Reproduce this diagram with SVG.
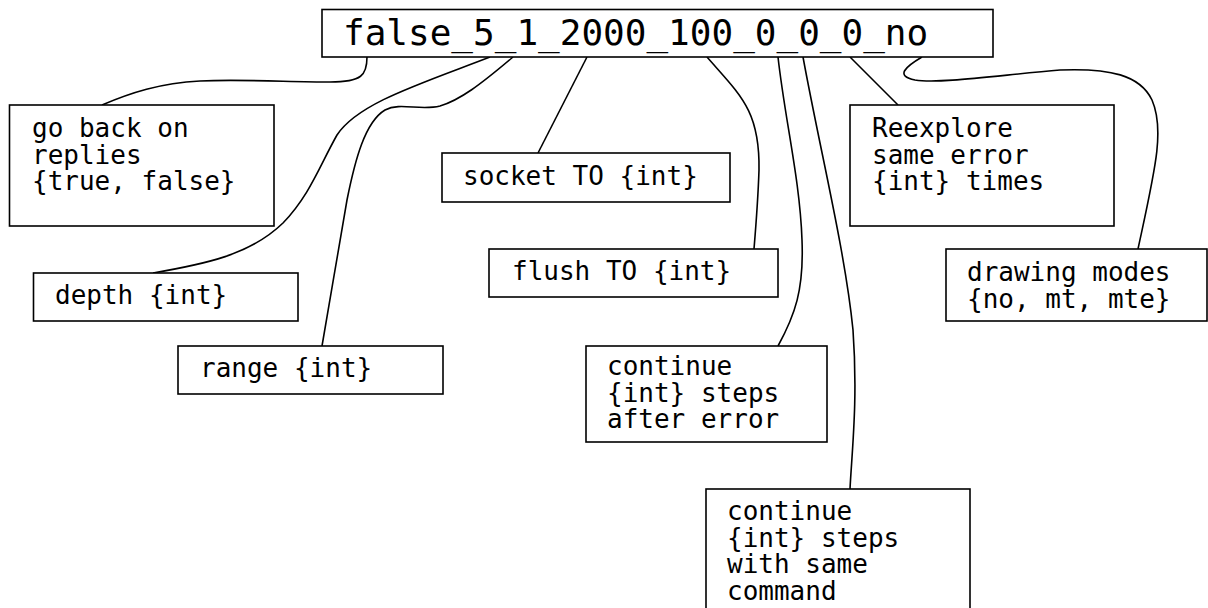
<svg xmlns="http://www.w3.org/2000/svg" width="1208" height="608" viewBox="0 0 1208 608">
<style>
.box{fill:#fff;stroke:#000;stroke-width:1.6}
.t{font-family:"DejaVu Sans Mono","Liberation Mono",monospace;font-size:26px;fill:#000}
.big{font-size:36px}
.c{fill:none;stroke:#000;stroke-width:1.6}
</style>
<rect width="1208" height="608" fill="#fff"/>
<g id="connectors">
<path class="c" d="M367,57 C367,75 362,82 330,82 C290,82 240,79 200,81 C160,83 130,93 102,105"/>
<path class="c" d="M490,57 C420,84 358,103 337,135 C320,165 310,195 283,223 C250,255 205,264 153,273"/>
<path class="c" d="M513,57 C480,85 460,100 440,106 C420,111 400,102 385,110 C365,122 355,160 347,200 C340,240 330,300 322,346"/>
<path class="c" d="M587,57 L538,153"/>
<path class="c" d="M707,57 C740,95 760,110 759,170 C758,200 756,225 754,249"/>
<path class="c" d="M778,57 C785,120 800,180 802,240 C804,290 795,315 778,346"/>
<path class="c" d="M803,57 C820,150 845,250 853,330 C858,400 852,450 850,489"/>
<path class="c" d="M850,57 L898,105"/>
<path class="c" d="M922,57 C905,67 895,76 915,80 C940,84 1000,75 1060,70 C1110,68 1140,75 1152,100 C1165,130 1155,170 1138,249"/>
</g>
<g id="root">
<rect class="box" x="322" y="9.5" width="671" height="47.5"/>
<text class="t big" x="343" y="45">false_5_1_2000_100_0_0_0_no</text>
</g>
<g id="goback">
<rect class="box" x="9.5" y="105" width="264.5" height="121"/>
<text class="t" x="32" y="137">go back on<tspan x="32" dy="26.7">replies</tspan><tspan x="32" dy="26.7">{true, false}</tspan></text>
</g>
<g id="depth">
<rect class="box" x="33.5" y="273" width="264.5" height="48"/>
<text class="t" x="55" y="304">depth {int}</text>
</g>
<g id="range">
<rect class="box" x="178" y="346" width="265" height="48"/>
<text class="t" x="200" y="377">range {int}</text>
</g>
<g id="socket">
<rect class="box" x="442" y="153" width="288" height="49"/>
<text class="t" x="463" y="185">socket TO {int}</text>
</g>
<g id="flush">
<rect class="box" x="489" y="249" width="289" height="48"/>
<text class="t" x="512" y="280">flush TO {int}</text>
</g>
<g id="continue_error">
<rect class="box" x="586" y="346" width="241" height="96"/>
<text class="t" x="607" y="375">continue<tspan x="607" dy="26.7">{int} steps</tspan><tspan x="607" dy="26.7">after error</tspan></text>
</g>
<g id="reexplore">
<rect class="box" x="850" y="105" width="264" height="121"/>
<text class="t" x="872" y="137">Reexplore<tspan x="872" dy="26.7">same error</tspan><tspan x="872" dy="26.7">{int} times</tspan></text>
</g>
<g id="drawing">
<rect class="box" x="946" y="249" width="261" height="72"/>
<text class="t" x="967" y="281">drawing modes<tspan x="967" dy="26.7">{no, mt, mte}</tspan></text>
</g>
<g id="continue_command">
<rect class="box" x="706" y="489" width="264" height="140"/>
<text class="t" x="727" y="520">continue<tspan x="727" dy="26.7">{int} steps</tspan><tspan x="727" dy="26.7">with same</tspan><tspan x="727" dy="26.7">command</tspan></text>
</g>
</svg>
